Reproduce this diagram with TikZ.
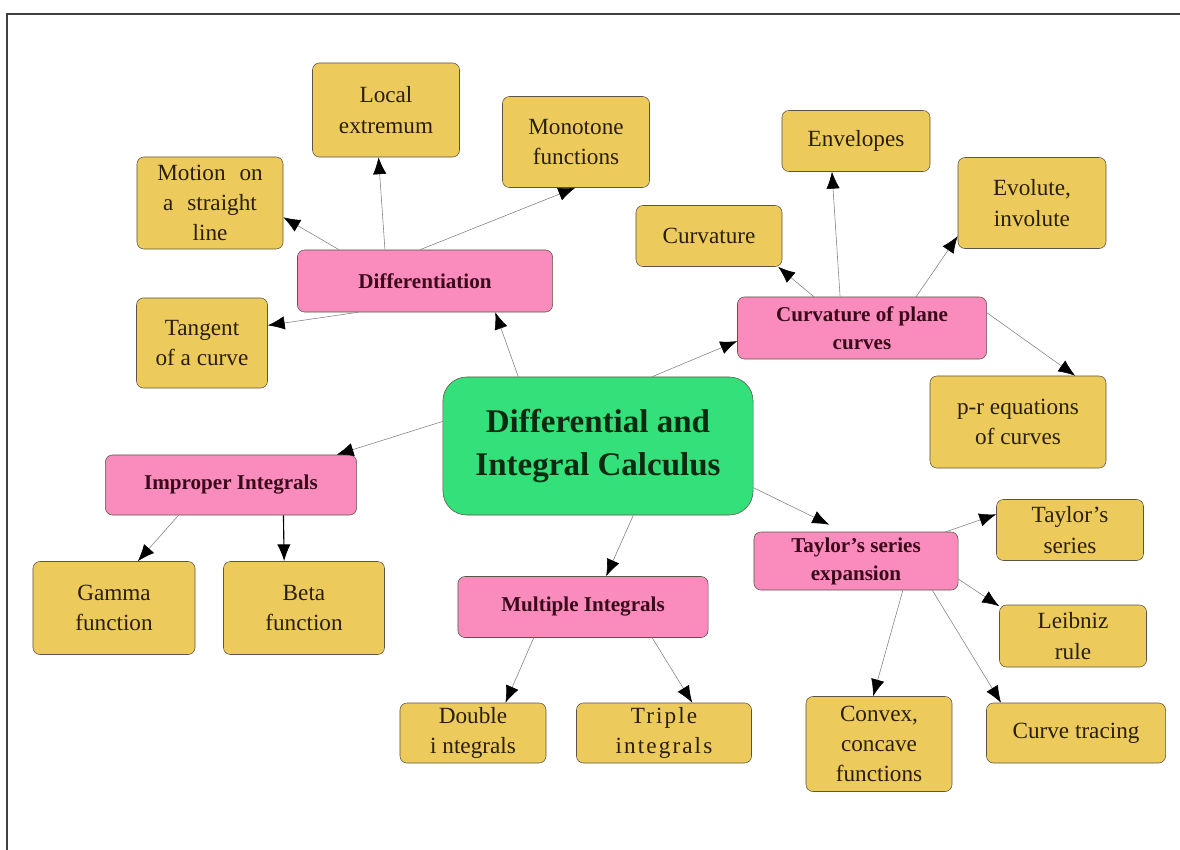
\documentclass[tikz,border=0pt]{standalone}
\usepackage{fontspec}
\setmainfont{Liberation Serif}
\usetikzlibrary{arrows.meta}
\definecolor{leafyellow}{HTML}{ECCB5C}
\definecolor{topicpink}{HTML}{F98CBC}
\definecolor{rootgreen}{HTML}{33E07A}
\definecolor{edgeline}{HTML}{5C5444}
\definecolor{inkdark}{HTML}{2A1E0C}
\definecolor{inkpink}{HTML}{3A0A1A}
\definecolor{inkgreen}{HTML}{0C2A12}
\tikzset{>={Latex[length=12pt,width=9.5pt,color=black]},
  leaf/.style={draw=edgeline, fill=leafyellow, rounded corners=5pt, align=center,
    inner sep=0pt, text=inkdark, font=\fontsize{16.5}{21.5}\selectfont},
  topic/.style={draw=edgeline, fill=topicpink, rounded corners=5pt, align=center,
    inner sep=0pt, text=inkpink, font=\bfseries\fontsize{15}{20}\selectfont},
  root/.style={draw=edgeline, fill=rootgreen, rounded corners=17pt, align=center,
    inner sep=0pt, text=inkgreen, font=\bfseries\fontsize{23.5}{30}\selectfont},
  link/.style={->, draw=gray, line width=0.4pt}}

\begin{document}
\begin{tikzpicture}[x=0.025cm,y=-0.025cm]
  \useasboundingbox (0,0) rectangle (1180,850);
  \draw[line width=1pt, black!75] (7,850) -- (7,14) -- (1180,14);

  % centre
  \node[root, minimum width=7.75cm, minimum height=3.45cm] (calc) at (598,446)
    {Differential and\\Integral Calculus};

  % differentiation
  \node[topic, minimum width=6.375cm, minimum height=1.55cm] (diff) at (425,281) {Differentiation};
  \node[leaf, minimum width=3.675cm, minimum height=2.35cm] (extr) at (386,110) {Local\\extremum};
  \node[leaf, minimum width=3.675cm, minimum height=2.275cm] (mono) at (576,142) {Monotone\\functions};
  \node[leaf, minimum width=3.65cm, minimum height=2.3cm] (motion) at (210,203)
    {Motion\hspace{0.6em}on\\a\hspace{0.6em}straight\\line};
  \node[leaf, minimum width=3.275cm, minimum height=2.25cm] (tang) at (202,343) {Tangent\\of a curve};

  % curvature
  \node[topic, minimum width=6.225cm, minimum height=1.55cm] (curv) at (862,328) {Curvature of plane\\curves};
  \node[leaf, minimum width=3.65cm, minimum height=1.525cm] (kappa) at (709,236) {Curvature};
  \node[leaf, minimum width=3.7cm, minimum height=1.525cm] (env) at (856,141) {Envelopes};
  \node[leaf, minimum width=3.7cm, minimum height=2.275cm] (evol) at (1032,203) {Evolute,\\involute};
  \node[leaf, minimum width=4.4cm, minimum height=2.3cm] (pr) at (1018,422) {p-r equations\\of curves};

  % improper integrals
  \node[topic, minimum width=6.275cm, minimum height=1.5cm] (impr) at (231,485) {Improper Integrals};
  \node[leaf, minimum width=4.05cm, minimum height=2.325cm] (gamma) at (114,608) {Gamma\\function};
  \node[leaf, minimum width=4.025cm, minimum height=2.325cm] (beta) at (304,608) {Beta\\function};

  % multiple integrals
  \node[topic, minimum width=6.25cm, minimum height=1.525cm] (mult) at (583,607) {Multiple Integrals};
  \node[leaf, minimum width=3.65cm, minimum height=1.5cm] (dbl) at (473,733) {Double\\i ntegrals};
  \node[leaf, minimum width=4.375cm, minimum height=1.5cm, 
    font=\fontsize{16.5}{21.5}\selectfont\addfontfeature{LetterSpace=9}] (tpl) at (664,733)
    {Triple\\integrals};

  % taylor
  \node[topic, minimum width=5.1cm, minimum height=1.45cm] (tay) at (856,561) {Taylor’s series\\expansion};
  \node[leaf, minimum width=3.675cm, minimum height=1.525cm] (tser) at (1070,530) {Taylor’s\\series};
  \node[leaf, minimum width=3.675cm, minimum height=1.55cm] (leib) at (1073,636) {Leibniz\\rule};
  \node[leaf, minimum width=3.65cm, minimum height=2.375cm] (conv) at (879,744) {Convex,\\concave\\functions};
  \node[leaf, minimum width=4.475cm, minimum height=1.5cm] (trace) at (1076,733) {Curve tracing};

  \draw[link] (calc.139) -- (diff.-24);
  \draw[link] (calc.52) -- (curv.186);
  \draw[link] (calc.171) -- (impr.16);
  \draw[link, shorten >=0.4cm] (calc.-15) -- (tay.113);
  \draw[link] (calc.-63) -- (mult.53);

  \draw[link] (diff.160) -- (motion.-11);
  \draw[link] (diff.142) -- (extr.261);
  \draw[link] (diff.99) -- (mono.-91);
  \draw[link] (diff.205) -- (tang.15);

  \draw[link] (curv.147) -- (kappa.-24);
  \draw[link] (curv.125) -- (env.232);
  \draw[link] (curv.30) -- (evol.204);
  \draw[link] (curv.7) -- (pr.39);

  \draw[link] (impr.210) -- (gamma.63);
  \draw[link, draw=black, line width=0.8pt] (impr.-30) -- (beta.113);

  \draw[link] (mult.-148) -- (dbl.43);
  \draw[link] (mult.-24) -- (tpl.47);

  \draw[link] (tay.18) -- (tser.168);
  \draw[link] (tay.-10) -- (leib.158);
  \draw[link] (tay.-32) -- (conv.97);
  \draw[link] (tay.-21) -- (trace.158);
\end{tikzpicture}
\end{document}
